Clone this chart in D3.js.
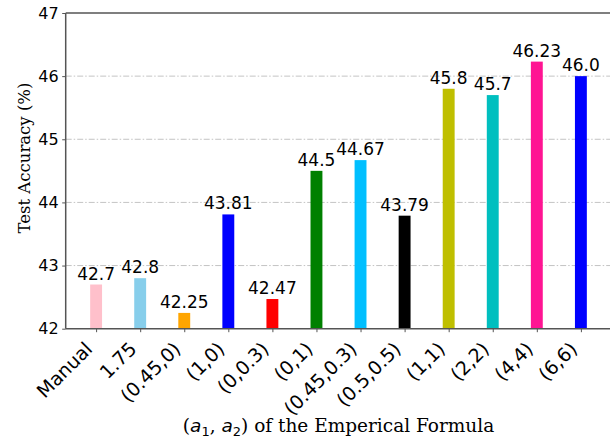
<!DOCTYPE html>
<html>
<head>
<meta charset="utf-8">
<script src="https://cdn.jsdelivr.net/npm/d3@7"></script>
<style>
  html, body { margin: 0; padding: 0; background: #fff; }
  svg { display: block; }
</style>
</head>
<body>
<svg id="chart" width="610" height="442"></svg>
<script>
// Formula settings (a1, a2) on the x axis
const categories = ["Manual", "1.75", "(0.45,0)", "(1,0)", "(0,0.3)", "(0,1)",
  "(0.45,0.3)", "(0.5,0.5)", "(1,1)", "(2,2)", "(4,4)", "(6,6)"];
// Test accuracy (%) for each setting
const accuracy = [42.7, 42.8, 42.25, 43.81, 42.47, 44.5, 44.67, 43.79, 45.8, 45.7, 46.23, 46.0];
const barColors = ["#ffc0cb", "#87ceeb", "#ffa500", "#0000ff", "#ff0000", "#008000",
  "#00bfff", "#000000", "#bfbf00", "#00bfbf", "#ff1493", "#0000ff"];
const yTicks = [42, 43, 44, 45, 46, 47];

const svg = d3.select("#chart");
const plotL = 65.7, plotR = 611.3, plotT = 13, plotB = 328.7;

const x = d3.scaleLinear().domain([-0.69, categories.length - 1 + 0.69]).range([plotL, plotR]);
const y = d3.scaleLinear().domain([42, 47]).range([plotB, plotT]);
const barW = x(0.27) - x(0);

const fmt = v => Number.isInteger(v) ? v.toFixed(1) : String(v);

// horizontal dash-dot grid
svg.append("g").selectAll("line").data(yTicks.slice(1, -1)).join("line")
  .attr("x1", plotL).attr("x2", plotR)
  .attr("y1", d => y(d)).attr("y2", d => y(d))
  .attr("stroke", "#c4c4c4").attr("stroke-width", 1)
  .attr("stroke-dasharray", "6,2,1.5,2");

// bars
svg.append("g").selectAll("rect").data(accuracy).join("rect")
  .attr("x", (d, i) => x(i) - barW / 2)
  .attr("width", barW)
  .attr("y", d => y(d))
  .attr("height", d => y(42) - y(d))
  .attr("fill", (d, i) => barColors[i]);

// value labels
svg.append("g").selectAll("text").data(accuracy).join("text")
  .attr("x", (d, i) => x(i))
  .attr("y", d => y(d) - 5)
  .attr("text-anchor", "middle")
  .attr("font-family", "DejaVu Sans")
  .attr("font-size", 17)
  .attr("fill", "#000")
  .text(fmt);

// y axis
const yAxis = svg.append("g").attr("transform", `translate(${plotL},0)`)
  .call(d3.axisLeft(y).tickValues(yTicks).tickFormat(d3.format("d")).tickSize(3.5).tickPadding(3.5));
yAxis.select(".domain").remove();
yAxis.selectAll("line").attr("stroke", "#555");
yAxis.selectAll("text").attr("font-family", "DejaVu Sans").attr("font-size", 16).attr("fill", "#000");

// x axis
const xAxis = svg.append("g").attr("transform", `translate(0,${plotB})`)
  .call(d3.axisBottom(x).tickValues(d3.range(categories.length)).tickFormat(i => categories[i]).tickSize(3.5));
xAxis.select(".domain").remove();
xAxis.selectAll("line").attr("stroke", "#555");
xAxis.selectAll("text")
  .attr("font-family", "DejaVu Sans").attr("font-size", 19).attr("fill", "#000")
  .attr("text-anchor", "end")
  .attr("dy", null).attr("y", null)
  .attr("transform", "translate(-3,21.5) rotate(-45)");

// spines
const spine = svg.append("g").attr("stroke", "#555").attr("stroke-width", 1.5).attr("fill", "none");
spine.append("line").attr("x1", plotL).attr("x2", plotL).attr("y1", plotT).attr("y2", plotB);
spine.append("line").attr("x1", plotL).attr("x2", plotR).attr("y1", plotT).attr("y2", plotT);
spine.append("line").attr("x1", plotL).attr("x2", plotR).attr("y1", plotB).attr("y2", plotB);
spine.append("line").attr("x1", plotR).attr("x2", plotR).attr("y1", plotT).attr("y2", plotB);

// axis titles
svg.append("text")
  .attr("transform", "translate(30,158) rotate(-90)")
  .attr("text-anchor", "middle")
  .attr("font-family", "DejaVu Serif")
  .attr("font-size", 16.5)
  .text("Test Accuracy (%)");

const xt = svg.append("text")
  .attr("x", (plotL + plotR) / 2).attr("y", 432)
  .attr("text-anchor", "middle")
  .attr("font-family", "DejaVu Serif")
  .attr("font-size", 18.5);
xt.append("tspan").text("(");
xt.append("tspan").attr("font-family", "DejaVu Sans").attr("font-style", "oblique").text("a");
xt.append("tspan").attr("font-family", "DejaVu Sans").attr("font-size", 13).attr("dy", 3.5).text("1");
xt.append("tspan").attr("dy", -3.5).text(", ");
xt.append("tspan").attr("font-family", "DejaVu Sans").attr("font-style", "oblique").text("a");
xt.append("tspan").attr("font-family", "DejaVu Sans").attr("font-size", 13).attr("dy", 3.5).text("2");
xt.append("tspan").attr("dy", -3.5).text(") of the Emperical Formula");
</script>
</body>
</html>
